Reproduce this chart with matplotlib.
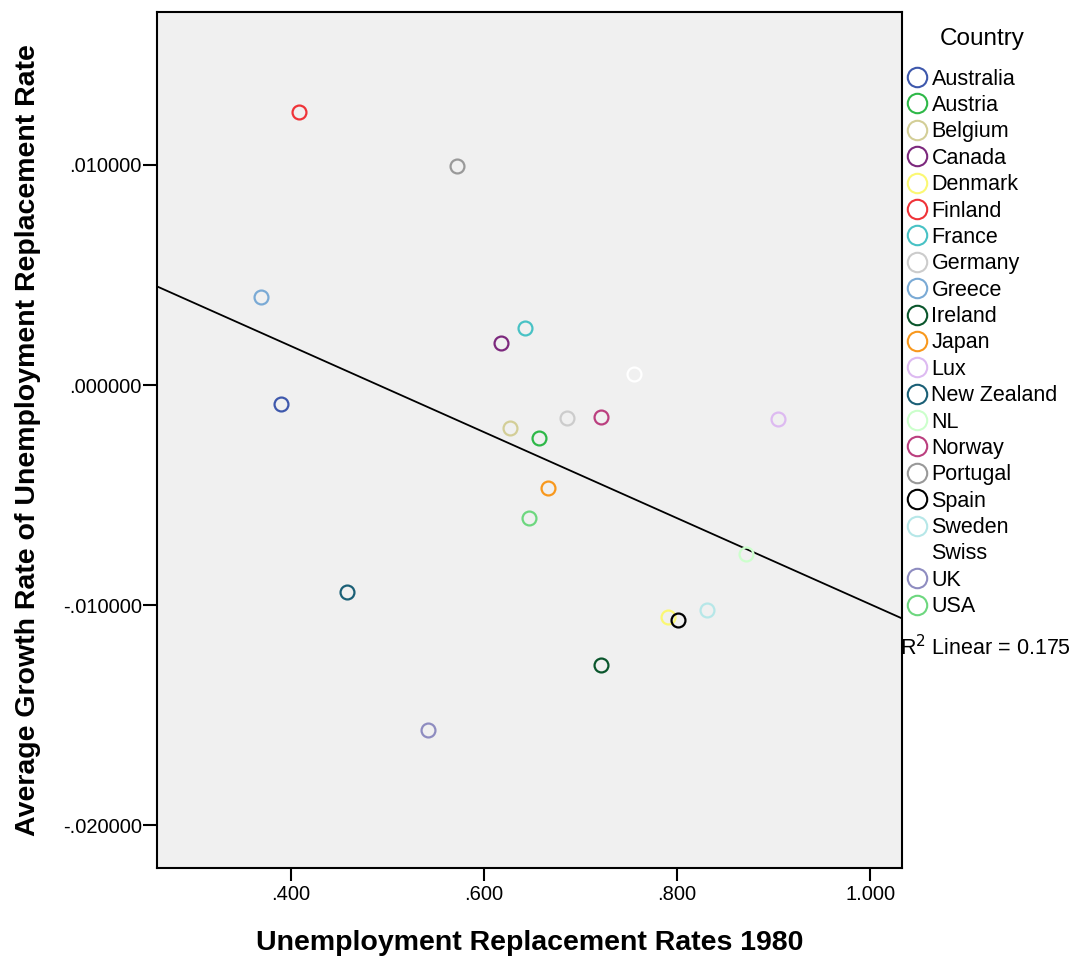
import numpy as np
import matplotlib
matplotlib.use("Agg")
import matplotlib.pyplot as plt
from matplotlib.lines import Line2D

plt.rcParams['font.family'] = ['Liberation Sans', 'DejaVu Sans']

countries = ["Australia", "Austria", "Belgium", "Canada", "Denmark", "Finland",
             "France", "Germany", "Greece", "Ireland", "Japan", "Lux",
             "New Zealand", "NL", "Norway", "Portugal", "Spain", "Sweden",
             "Swiss", "UK", "USA"]

# replacement rate 1980 (x) and average growth rate (y)
repl_1980 = [0.389, 0.657, 0.627, 0.617, 0.791, 0.408,
             0.642, 0.686, 0.369, 0.721, 0.666, 0.905,
             0.458, 0.871, 0.721, 0.572, 0.801, 0.831,
             0.755, 0.542, 0.647]
growth = [-0.00086, -0.00241, -0.00195, 0.00191, -0.01055, 0.01241,
          0.00259, -0.00150, 0.00400, -0.01273, -0.00468, -0.00155,
          -0.00941, -0.00768, -0.00145, 0.00995, -0.01068, -0.01023,
          0.00050, -0.01568, -0.00605]

colors = ["#3E58AC", "#2EB848", "#D3CE97", "#7C287D", "#FBF873", "#EF3338",
          "#48C2C5", "#CCCCCC", "#7AAAD5", "#0A562C", "#F8981D", "#DDBAF1",
          "#1A5F76", "#CCFFCC", "#BB3F7F", "#999999", "#000000", "#B6E7E8",
          "#FFFFFF", "#8E8CC0", "#6DD77F"]

x = np.array(repl_1980)
y = np.array(growth)

fig = plt.figure(figsize=(10.73, 9.6), dpi=100)
ax = fig.add_axes([0.1463, 0.0958, 0.8406 - 0.1463, 0.9875 - 0.0958])
ax.set_facecolor("#F0F0F0")

xlim = (0.261, 1.033)
ylim = (-0.02195, 0.01695)

# linear fit line across the whole axis
slope, icpt = np.polyfit(x, y, 1)
xs = np.array(xlim)
ax.plot(xs, slope * xs + icpt, color="black", lw=1.3, zorder=2)

for xi, yi, c in zip(x, y, colors):
    ax.plot(xi, yi, 'o', mfc='none', mec=c, ms=10, mew=1.6, zorder=3)

ax.set_xlim(*xlim)
ax.set_ylim(*ylim)
ax.set_xticks([0.4, 0.6, 0.8, 1.0])
ax.set_xticklabels([".400", ".600", ".800", "1.000"])
ax.set_yticks([0.01, 0.0, -0.01, -0.02])
ax.set_yticklabels([".010000", ".000000", "-.010000", "-.020000"])
ax.tick_params(direction='out', length=10, width=1.5, labelsize=14.5, colors='black')
ax.tick_params(axis='y', pad=1)
ax.tick_params(axis='x', length=9, pad=3)
for s in ax.spines.values():
    s.set_linewidth(1.5)

ax.set_xlabel("Unemployment Replacement Rates 1980", fontsize=20.5, fontweight='bold')
ax.set_ylabel("Average Growth Rate of Unemployment Replacement Rate", fontsize=20.5, fontweight='bold')
ax.xaxis.set_label_coords((529.5 - 157) / 745, (868 - 943) / 856)
ax.xaxis.label.set_va('center')
ax.yaxis.set_label_coords((28 - 157) / 745, 0.5)
ax.yaxis.label.set_va('center')

handles = [Line2D([], [], marker='o', ls='none', mfc='none', mec=c, ms=14, mew=1.5)
           for c in colors]
leg = fig.legend(handles, countries, loc='upper left',
                 bbox_to_anchor=(0.835, 1 - 60 / 960), frameon=False, fontsize=15.5,
                 handletextpad=0.05, labelspacing=0.25,
                 handlelength=1.2, borderaxespad=0)
fig.text(982 / 1073, 1 - 39 / 960, "Country", fontsize=17.5, ha='center', va='center')

fig.text(900 / 1073, 1 - 648 / 960, "R$^2$ Linear = 0.175", fontsize=15.5, va='center', ha='left')

fig.savefig("out.png", dpi=100)
